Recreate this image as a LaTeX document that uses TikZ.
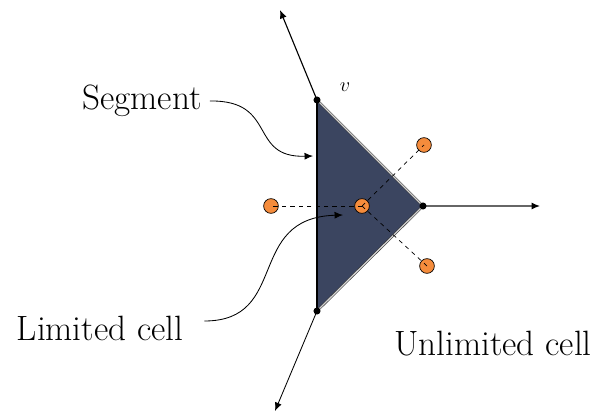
\documentclass[tikz,border=0pt]{standalone}
\usepackage{tikz}
\usetikzlibrary{positioning, arrows.meta}
\definecolor{cellfill}{RGB}{59,69,96}
\definecolor{siteorange}{RGB}{245,140,60}
\tikzset{%
	>={Latex[length=6pt,width=5pt]},
	vtx/.style = {circle, fill = black, inner sep = 0pt, minimum size = 5pt},
	site/.style = {circle, draw, fill = siteorange, inner sep = 0pt, minimum size = 10.5pt, line width = 0.5pt},
	lbl/.style = {font = \fontsize{25}{29}\selectfont, inner sep = 0pt},
	link/.style = {dashed, line width = 0.5pt}
}
\begin{document}
\begin{tikzpicture}[x=0.025cm,y=-0.025cm]
			\useasboundingbox (0,0) rectangle (597,419);
			% cell
			\coordinate (top) at (317,100);
			\coordinate (bot) at (317,311);
			\coordinate (tip) at (423,206);
			\fill [cellfill] (top) -- (tip) -- (bot) -- cycle;
			\draw [black!80, double = gray!35, double distance = 0.9pt] (top) -- (tip) -- (bot);
			\draw [line width = 2pt] (top) -- (bot);
			% rays
			\coordinate (e1) at (280,10);
			\coordinate (e2) at (275,411);
			\coordinate (e3) at (540,206);
			\draw [->, line width = 0.8pt] (top) -- (e1);
			\draw [->, line width = 0.6pt] (bot) -- (e2);
			\draw [-{Latex[length=6pt,width=5pt,color=black]}, line width = 0.9pt, gray!80!black] (tip) -- (e3);
			\node [vtx] (v1) at (top) {};
			\node [vtx] (v2) at (bot) {};
			\node [vtx] (v3) at (tip) {};
			\node [font = \Large] (v) at (345,87) {$v$};
			% sites
			\node [site] (s0) at (362,206) {};
			\node [site] (s1) at (271,206) {};
			\node [site] (s2) at (424,145) {};
			\node [site] (s3) at (427,266) {};
			\draw [link] (s0.center) -- (s1.center);
			\draw [link] (s0.center) -- (s2.center);
			\draw [link] (s0.center) -- (s3.center);
			% labels
			\node [lbl] (seg) at (142,101) {Segment};
			\node [lbl] (lim) at (100,328) {Limited cell};
			\node [lbl] (unl) at (493,344) {Unlimited cell};
			\draw [->, line width = 0.6pt] (seg.east) ++(8,0) coordinate (a1)
				.. controls (278,100) and (248,158) .. (313,156);
			\draw [->, line width = 0.6pt] (lim.east) ++(21,-7) coordinate (a2)
				.. controls (290,321) and (245,218) .. (343,215);
\end{tikzpicture}
\end{document}
